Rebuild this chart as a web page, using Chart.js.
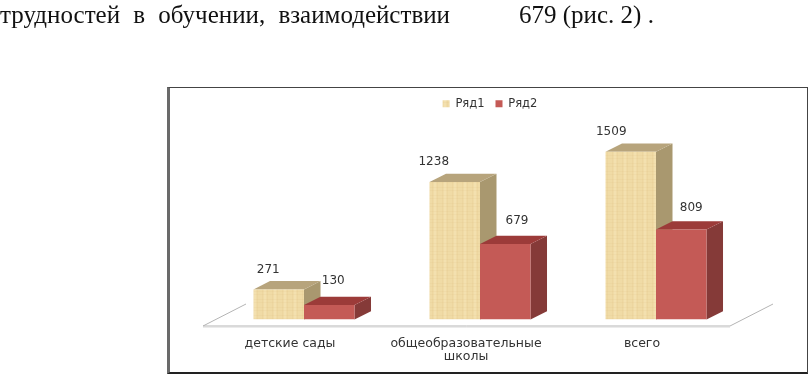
<!DOCTYPE html>
<html><head><meta charset="utf-8">
<style>
html,body{margin:0;padding:0;background:#fff;overflow:hidden}
#wrap{position:relative;width:810px;height:375px}
#frame{position:absolute;left:167px;top:87px;width:637px;height:284px;border:1px solid #444;border-left:3px solid #6a6a6a;border-bottom:2px solid #222;box-sizing:content-box}
canvas{position:absolute;left:0;top:0}
.t{position:absolute;top:2px;font:25px "Liberation Serif",serif;color:#111;white-space:pre;line-height:26px}
</style>
<script src="https://cdn.jsdelivr.net/npm/chart.js@4"></script>
</head><body>
<div id="wrap">
<div id="frame"></div>
<canvas id="c" width="810" height="375"></canvas>
<div class="t" style="left:0;word-spacing:7px">трудностей в обучении, взаимодействии</div>
<div class="t" style="left:519px">679 (рис. 2) .</div>
</div>
<script>
const categories = [['детские сады'], ['общеобразовательные', 'школы'], ['всего']];
const seriesNames = ['Ряд1', 'Ряд2'];
const series1 = [271, 1238, 1509];
const series2 = [130, 679, 809];
const yMax = 1800;

// Depth of the pseudo-3D extrusion, in pixels
const DEPTH_X = 16.5, DEPTH_Y = 8.3;
// Hand placement of value labels relative to the top centre of each bar
const labelShift = [
  [[-10.5, -20], [-21, -20], [-19.5, -20]],
  [[4, -24], [11.7, -23], [10, -22]]
];
const shades = [
  {top: '#b7a47c', side: '#a9986f'},
  {top: '#9c3b39', side: '#853a38'}
];

function woven() {
  const p = document.createElement('canvas');
  p.width = 10; p.height = 8;
  const g = p.getContext('2d');
  g.fillStyle = '#f0dba6'; g.fillRect(0, 0, 10, 8);
  g.fillStyle = 'rgba(196,160,90,0.07)';
  g.fillRect(2, 0, 1, 8); g.fillRect(7, 0, 1, 8);
  g.fillStyle = 'rgba(255,246,215,0.2)';
  g.fillRect(4, 0, 2, 8);
  g.fillStyle = 'rgba(196,160,90,0.06)';
  g.fillRect(0, 3, 10, 1); g.fillRect(0, 6, 10, 1);
  return g.createPattern(p, 'repeat');
}

function poly(ctx, pts, fill) {
  ctx.fillStyle = fill;
  ctx.beginPath();
  pts.forEach((q, i) => i ? ctx.lineTo(q[0], q[1]) : ctx.moveTo(q[0], q[1]));
  ctx.closePath();
  ctx.fill();
}

const extrude = {
  id: 'extrude',
  afterLayout(chart) {
    // legend sits right of the plot's centre in the reference
    chart.legend.left += 10; chart.legend.right += 10;
  },
  beforeDatasetsDraw(chart) {
    const ctx = chart.ctx, a = chart.chartArea;
    // floor
    ctx.save();
    ctx.strokeStyle = '#b4b4b4'; ctx.lineWidth = 1;
    const fy = a.bottom + 6.5, bx = 43, by = 22;
    const l = a.left - 13, r = a.right - 14;
    ctx.beginPath();
    ctx.moveTo(l + bx, fy - by); ctx.lineTo(l, fy); ctx.lineTo(r, fy); ctx.lineTo(r + bx, fy - by);
    ctx.stroke();
    ctx.strokeStyle = '#d8d8d8';
    ctx.beginPath(); ctx.moveTo(l, fy + 1); ctx.lineTo(r, fy + 1); ctx.stroke();
    ctx.restore();
    chart.data.datasets.forEach((ds, i) => {
      chart.getDatasetMeta(i).data.forEach(b => {
        const half = b.width / 2, L = b.x - half, R = b.x + half, T = b.y, B = b.base;
        poly(ctx, [[R, T], [R + DEPTH_X, T - DEPTH_Y], [R + DEPTH_X, B - DEPTH_Y], [R, B]], shades[i].side);
        poly(ctx, [[L, T], [L + DEPTH_X, T - DEPTH_Y], [R + DEPTH_X, T - DEPTH_Y], [R, T]], shades[i].top);
      });
    });
  },
  afterDatasetsDraw(chart) {
    const ctx = chart.ctx;
    ctx.save();
    ctx.font = '12px "DejaVu Sans"';
    ctx.fillStyle = '#333';
    ctx.textAlign = 'center'; ctx.textBaseline = 'middle';
    chart.data.datasets.forEach((ds, i) => {
      chart.getDatasetMeta(i).data.forEach((b, j) => {
        ctx.fillText(String(ds.data[j]), b.x + labelShift[i][j][0], b.y + labelShift[i][j][1]);
      });
    });
    ctx.restore();
  }
};

new Chart(document.getElementById('c'), {
  type: 'bar',
  plugins: [extrude],
  data: {
    labels: categories,
    datasets: [
      {label: seriesNames[0], data: series1, backgroundColor: woven()},
      {label: seriesNames[1], data: series2, backgroundColor: '#c45a56'}
    ]
  },
  options: {
    responsive: false, animation: false, devicePixelRatio: 1,
    layout: {padding: {left: 216, right: 66, top: 87, bottom: 0}},
    datasets: {bar: {categoryPercentage: 0.574, barPercentage: 1}},
    plugins: {
      legend: {
        position: 'top', align: 'center',
        labels: {boxWidth: 7, boxHeight: 7, padding: 11, font: {family: 'DejaVu Sans', size: 11.5}, color: '#333'}
      },
      tooltip: {enabled: false}
    },
    scales: {
      x: {
        grid: {display: false}, border: {display: false},
        afterFit(scale) { scale.height = 55.5; },
        ticks: {font: {family: 'DejaVu Sans', size: 12.5, lineHeight: 1.05}, color: '#333', padding: 10, labelOffset: -14, maxRotation: 0, autoSkip: false}
      },
      y: {display: false, min: 0, max: yMax}
    }
  }
});
</script>
</body></html>
